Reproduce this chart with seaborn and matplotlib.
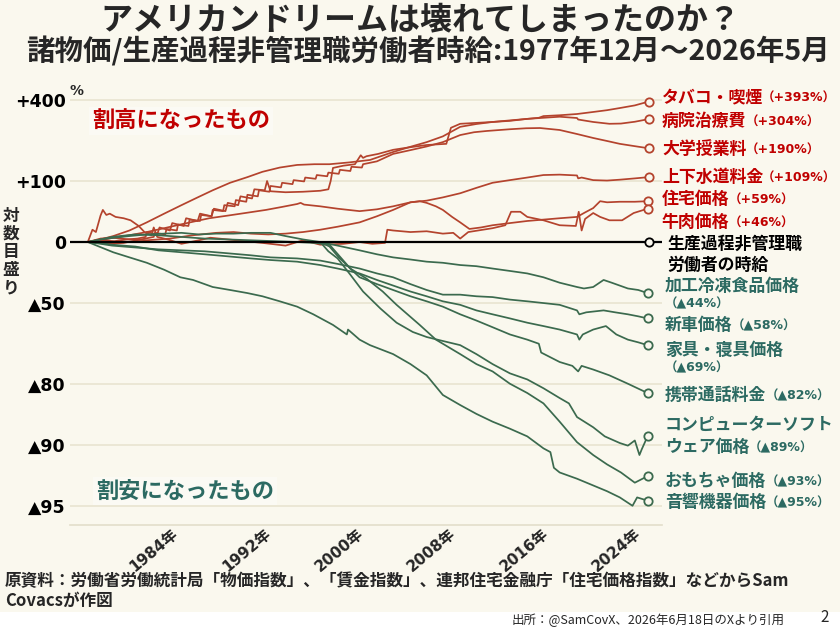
import numpy as np
import pandas as pd
import matplotlib
matplotlib.use('Agg')
import matplotlib.pyplot as plt
import matplotlib.transforms as mtrans
import seaborn as sns

# %% Data : (year, % change vs Dec-1977), price index relative to hourly wage

tobacco = [(1977.9, 0), (1979.0, 2), (1980.2, 1), (1981.3, 3), (1982.2, 4), (1982.9, 6), (1983.0, 12),
           (1983.9, 9), (1984.1, 18), (1985.0, 14), (1985.2, 24), (1986.2, 20), (1986.4, 31), (1987.4, 27),
           (1987.6, 38), (1988.6, 34), (1988.8, 46), (1989.8, 42), (1990.0, 56), (1990.9, 52), (1991.1, 68),
           (1992.1, 64), (1992.3, 82), (1993.2, 80), (1993.4, 100), (1993.7, 78), (1995.0, 76), (1996.5, 77),
           (1998.0, 79), (1998.7, 82), (1998.9, 100), (1999.1, 132), (2000.0, 138), (2001.0, 142),
           (2001.5, 168), (2001.7, 160), (2002.0, 165), (2003.0, 172), (2004.3, 185), (2005.5, 192),
           (2007.2, 201), (2008.9, 205), (2009.3, 266), (2010.1, 283), (2011.5, 287), (2012.9, 291),
           (2014.4, 296), (2015.9, 305), (2016.9, 310), (2017.3, 318), (2018.7, 322), (2020.2, 328),
           (2021.6, 338), (2022.8, 347), (2023.9, 358), (2025.2, 372), (2026.4, 393)]

hospital = [(1977.9, 0), (1979.0, 3), (1980.1, 7), (1981.5, 14), (1983.0, 25), (1984.5, 38), (1986.0, 52),
            (1987.3, 65), (1988.7, 80), (1990.2, 96), (1991.7, 109), (1993.0, 122), (1994.5, 133),
            (1996.0, 140), (1997.5, 142), (1998.8, 142), (2000.5, 147), (2002.3, 154), (2004.3, 178),
            (2005.8, 195), (2007.2, 211), (2008.6, 232), (2010.1, 270), (2011.5, 282), (2012.9, 291),
            (2014.4, 298), (2015.9, 305), (2017.3, 310), (2018.7, 315), (2020.2, 309), (2020.3, 302),
            (2021.6, 291), (2023.0, 283), (2024.0, 284), (2025.2, 292), (2026.4, 304)]

tuition = [(1977.9, 0), (1979.5, -2), (1981.0, -1), (1982.5, 3), (1983.6, 6), (1983.7, 11), (1984.6, 9),
           (1984.7, 16), (1985.6, 14), (1985.7, 22), (1986.6, 20), (1986.7, 29), (1987.6, 27), (1987.7, 36),
           (1988.6, 34), (1988.7, 44), (1989.6, 42), (1989.7, 52), (1990.6, 50), (1990.7, 61), (1991.6, 58),
           (1991.7, 71), (1992.6, 68), (1992.7, 80), (1993.6, 77), (1993.7, 89), (1994.6, 86), (1994.7, 96),
           (1995.6, 93), (1995.7, 102), (1996.6, 99), (1996.7, 108), (1997.6, 105), (1997.7, 114),
           (1998.6, 111), (1998.7, 120), (1999.6, 117), (1999.7, 127), (2000.6, 124), (2000.7, 135),
           (2001.6, 133), (2001.7, 142), (2002.9, 150), (2004.3, 172), (2005.8, 184), (2007.2, 196),
           (2008.6, 211), (2010.1, 237), (2011.3, 248), (2012.4, 253), (2014.4, 260), (2015.8, 264),
           (2017.0, 265), (2018.7, 257), (2020.2, 241), (2021.6, 226), (2022.8, 215), (2023.9, 205),
           (2025.2, 197), (2026.4, 190)]

water = [(1977.9, 0), (1979.0, 2), (1980.1, 5), (1981.5, 8), (1983.0, 12), (1984.5, 17), (1985.9, 22),
         (1987.3, 27), (1988.4, 31), (1990.0, 35), (1991.5, 39), (1993.3, 44), (1994.7, 49), (1996.0, 54),
         (1996.3, 56), (1996.6, 53), (1998.0, 50), (1999.5, 46), (2001.4, 42), (2002.9, 45), (2004.3, 50),
         (2005.8, 57), (2007.2, 60), (2008.6, 66), (2010.1, 74), (2011.5, 85), (2012.9, 96), (2014.4, 102),
         (2015.9, 108), (2017.3, 114), (2018.7, 115), (2020.2, 113), (2020.3, 106), (2020.6, 108),
         (2021.6, 102), (2022.8, 101), (2023.9, 103), (2025.2, 106), (2026.4, 109)]

housing = [(1977.9, 0), (1979.0, 4), (1980.0, 5), (1981.5, 3), (1983.0, 2), (1985.0, 4), (1987.0, 8),
           (1989.0, 11), (1990.5, 12), (1992.0, 10), (1993.5, 9), (1995.0, 10), (1996.5, 12), (1998.0, 15),
           (1999.5, 19), (2001.4, 25), (2002.9, 34), (2004.3, 44), (2005.8, 57), (2006.6, 59), (2007.2, 56),
           (2008.0, 50), (2008.6, 44), (2009.4, 33), (2010.1, 25), (2010.9, 16), (2011.9, 18), (2012.9, 21),
           (2014.4, 24), (2015.9, 27), (2017.3, 29), (2018.7, 31), (2020.2, 33), (2020.9, 40), (2021.6, 47),
           (2022.2, 59), (2022.8, 57), (2023.9, 58), (2025.2, 58), (2026.3, 59)]

beef = [(1977.9, 0), (1978.3, 15), (1978.6, 12), (1979.0, 35), (1979.2, 44), (1979.5, 36), (1979.8, 38),
        (1980.3, 33), (1981.0, 31), (1981.6, 28), (1982.3, 20), (1982.8, 12), (1983.4, 8), (1983.6, 18),
        (1983.9, 6), (1984.8, 3), (1986.0, -2), (1987.5, 2), (1988.5, 5), (1990.0, 3), (1991.5, 1),
        (1993.0, -1), (1995.0, -4), (1996.5, 2), (1998.0, -3), (2000.0, -2), (2001.4, 0), (2002.5, -2),
        (2003.6, -1), (2003.8, 15), (2004.3, 14), (2005.8, 12), (2007.2, 13), (2008.6, 10), (2009.5, 11),
        (2010.1, 4), (2010.8, 12), (2012.9, 17), (2014.0, 21), (2014.5, 41), (2015.3, 41), (2015.9, 33),
        (2017.3, 28), (2018.7, 21), (2020.1, 20), (2020.35, 41), (2020.6, 14), (2020.9, 30), (2021.6, 39),
        (2022.2, 33), (2023.0, 28), (2024.1, 28), (2025.1, 39), (2026.3, 46)]

wage = [(1977.9, 0), (2026.4, 0)]

frozen = [(1977.9, 0), (1979.0, 3), (1980.2, 5), (1981.5, 7), (1983.0, 9), (1984.5, 10), (1986.0, 11),
          (1987.5, 9), (1989.0, 10), (1990.5, 10), (1992.0, 11), (1993.7, 11), (1995.0, 7), (1996.5, 3),
          (1998.0, 0), (1999.5, -4), (2001.4, -9), (2002.9, -13), (2004.3, -16), (2005.8, -18), (2007.2, -20),
          (2008.6, -21), (2010.1, -23), (2011.5, -24), (2012.9, -26), (2014.4, -28), (2015.9, -30),
          (2017.3, -33), (2018.7, -37), (2020.2, -40), (2020.8, -41), (2021.6, -40), (2022.5, -35),
          (2023.2, -37), (2024.6, -41), (2025.5, -42), (2026.3, -44)]

new_car = [(1977.9, 0), (1979.0, -2), (1980.0, -4), (1982.0, -6), (1984.0, -8), (1986.0, -9), (1988.0, -10),
           (1990.0, -12), (1992.0, -14), (1993.7, -16), (1996.0, -17), (1998.0, -19), (1999.5, -22),
           (2001.4, -26), (2002.9, -30), (2004.3, -33), (2005.8, -38), (2007.2, -42), (2008.6, -45),
           (2010.1, -45), (2011.5, -46), (2012.9, -46.5), (2014.4, -48), (2015.9, -49), (2017.3, -50),
           (2018.7, -51), (2020.2, -54), (2020.4, -56), (2021.0, -55), (2022.5, -54), (2023.5, -55),
           (2024.6, -56), (2025.5, -57), (2026.3, -58)]

furniture = [(1977.9, 0), (1979.0, -1), (1980.0, -3), (1982.0, -5), (1984.0, -9), (1986.0, -11), (1988.0, -13),
             (1990.0, -15), (1992.0, -17), (1993.7, -18.5), (1996.0, -20), (1998.0, -23), (1999.5, -26),
             (2001.4, -30), (2002.9, -35), (2004.3, -39), (2005.8, -43), (2007.2, -46), (2008.6, -49),
             (2010.1, -51), (2011.5, -54), (2012.9, -56), (2014.4, -58), (2015.9, -60), (2017.3, -61.5),
             (2018.7, -63), (2020.2, -65), (2020.4, -67), (2020.7, -65), (2021.6, -63), (2022.7, -61.5),
             (2023.6, -65), (2024.6, -67), (2025.5, -68), (2026.3, -69)]

cellphone = [(1998.0, 0), (1998.8, -5), (1999.6, -16), (2000.6, -26), (2001.4, -33), (2002.9, -38),
             (2004.3, -42), (2005.8, -46), (2007.2, -49), (2008.6, -52), (2010.1, -56), (2011.5, -59),
             (2012.9, -62), (2014.4, -65), (2015.9, -67), (2016.9, -68.5), (2017.1, -71.5), (2018.7, -74.4),
             (2019.8, -75.5), (2020.3, -77), (2020.6, -75.5), (2021.6, -76.5), (2023.0, -78), (2024.6, -80),
             (2026.3, -82)]

software = [(1998.0, 0), (1998.7, -10), (1999.5, -17), (2000.6, -31), (2001.7, -43), (2003.2, -53),
            (2004.6, -60), (2006.0, -64), (2007.2, -66), (2008.6, -67.5), (2010.1, -69), (2011.5, -72),
            (2012.9, -75), (2014.4, -77.5), (2015.9, -79), (2017.3, -81), (2018.7, -83), (2019.5, -84),
            (2020.2, -86.3), (2021.6, -87.8), (2022.6, -89), (2023.9, -89.8), (2024.6, -90.1), (2025.2, -89.5),
            (2025.6, -91.1), (2025.8, -90.5), (2026.3, -89)]

toys = [(1977.9, 0), (1979.0, 3), (1980.0, 6), (1982.0, 9), (1984.0, 8), (1986.0, 6), (1988.0, 4),
        (1990.0, 3), (1992.0, 2), (1994.0, 1), (1996.0, 0), (1997.5, -1), (1998.8, -3), (2000.6, -26),
        (2002.0, -34), (2003.4, -43), (2004.6, -51), (2006.6, -61), (2008.0, -67), (2010.1, -72),
        (2011.5, -75), (2012.9, -77), (2014.4, -80), (2015.9, -82), (2017.3, -84), (2018.7, -87),
        (2020.2, -89.7), (2021.6, -91.1), (2022.8, -92), (2024.0, -92.7), (2025.2, -93.5), (2026.3, -93)]

audio = [(1977.9, 0), (1980.1, -11), (1981.5, -16), (1983.0, -21), (1984.5, -27), (1985.9, -33), (1987.0, -35),
         (1988.7, -40), (1990.2, -42), (1991.7, -44), (1993.0, -46), (1994.5, -49), (1996.0, -52),
         (1997.4, -56), (1999.1, -61), (2000.3, -65), (2000.4, -63), (2001.4, -67), (2002.3, -69),
         (2004.3, -72), (2005.8, -75), (2007.2, -78), (2008.6, -82.4), (2010.1, -84.3), (2011.5, -85.8),
         (2012.9, -87), (2014.4, -88), (2015.9, -89), (2017.3, -90.4), (2017.9, -90.8), (2018.2, -92.3),
         (2018.7, -92.7), (2020.2, -93.2), (2021.6, -93.7), (2022.8, -94.1), (2023.9, -94.5), (2025.0, -95),
         (2025.4, -94.5), (2026.3, -94.7)]

series_names = ['tobacco', 'hospital', 'tuition', 'water', 'housing', 'beef', 'wage',
                'frozen', 'new_car', 'furniture', 'cellphone', 'software', 'toys', 'audio']
series_data = [tobacco, hospital, tuition, water, housing, beef, wage,
               frozen, new_car, furniture, cellphone, software, toys, audio]
series_group = ['up'] * 6 + ['base'] + ['down'] * 7

label_main = ['タバコ・喫煙', '病院治療費', '大学授業料', '上下水道料金', '住宅価格', '牛肉価格',
              '生産過程非管理職\n労働者の時給',
              '加工冷凍食品価格', '新車価格', '家具・寝具価格', '携帯通話料金',
              'コンピューターソフト\nウェア価格', 'おもちゃ価格', '音響機器価格']
label_pct = ['（+393%）', '（+304%）', '（+190%）', '（+109%）', '（+59%）', '（+46%）', '',
             '（▲44%）', '（▲58%）', '（▲69%）', '（▲82%）', '（▲89%）', '（▲93%）', '（▲95%）']

ytick_vals = [400, 100, 0, -50, -80, -90, -95]
ytick_text = ['+400', '+100', '0', '▲50', '▲80', '▲90', '▲95']
xtick_years = [1984, 1992, 2000, 2008, 2016, 2024]

# %% Frame

rows = []
for name, grp, pts in zip(series_names, series_group, series_data):
    for yr, pct in pts:
        rows.append({'series': name, 'group': grp, 'year': yr, 'ratio': 1 + pct / 100.0})
df = pd.DataFrame(rows)

RED_LINE = '#B4432D'
GREEN_LINE = '#3B6A4E'
RED_TXT = '#C00000'
TEAL_TXT = '#2C6A62'
BG = '#FAF8EE'
grp_color = {'up': RED_LINE, 'base': 'black', 'down': GREEN_LINE}
palette = {n: grp_color[g] for n, g in zip(series_names, series_group)}

# %% Plot

sns.set_theme(style='white')
plt.rcParams['font.family'] = ['Noto Sans CJK JP', 'DejaVu Sans']
NUMFONT = ['DejaVu Sans', 'Noto Sans CJK JP']

W, H = 840, 630
fig = plt.figure(figsize=(W / 100, H / 100), dpi=100, facecolor=BG)
ax = fig.add_axes([70 / W, 1 - 525 / H, (662 - 70) / W, (525 - 85) / H], facecolor=BG)

# white footer band
fig.patches.append(plt.Rectangle((0, 0), 1, 1 - 612 / H, transform=fig.transFigure,
                                 facecolor='white', edgecolor='none', zorder=0))

ax.set_yscale('log')
ax.set_xlim(1976.36, 2027.55)
ax.set_ylim(0.0402, 5.95)

for v in ytick_vals:
    if v != 0:
        ax.axhline(1 + v / 100.0, color='#E8E4D0', lw=1.2, zorder=0)
ax.axhline(1, color='black', lw=1.6, zorder=3)

sns.lineplot(data=df[df.group != 'base'], x='year', y='ratio', hue='series', palette=palette,
             estimator=None, sort=False, legend=False, linewidth=1.25, ax=ax, zorder=2)

for name, pts in zip(series_names, series_data):
    yr, pct = pts[-1]
    ax.plot([yr], [1 + pct / 100.0], marker='o', ms=6, mfc=BG, mec=palette[name], mew=1.3,
            zorder=5, clip_on=False)

ax.yaxis.set_minor_locator(matplotlib.ticker.NullLocator())
ax.set_yticks([1 + v / 100.0 for v in ytick_vals])
ax.set_yticklabels(ytick_text, fontsize=12.5, fontweight='bold', family=NUMFONT)
ax.set_xticks([])

# x labels drawn by hand so they can sit slightly right of the year mark, like the original
xlab_tr = mtrans.blended_transform_factory(ax.transData, ax.transAxes) + \
    mtrans.ScaledTranslation(13 / 100, -1 / 100, fig.dpi_scale_trans)
for yr in xtick_years:
    ax.text(yr, 0, '{}年'.format(yr), transform=xlab_tr, rotation=40, ha='right', va='top',
            rotation_mode='anchor', fontsize=11, fontweight='bold', family=NUMFONT)

ax.tick_params(axis='both', length=0, pad=3, colors='black')
ax.set_xlabel('')
ax.set_ylabel('')
for s in ['top', 'right', 'left']:
    ax.spines[s].set_visible(False)
ax.spines['bottom'].set_color('#E2DECB')
ax.spines['bottom'].set_linewidth(1.2)


def px(x, y):
    return x / W, 1 - y / H


# titles
fig.text(*px(420, 20), 'アメリカンドリームは壊れてしまったのか？', ha='center', va='center',
         fontsize=23, fontweight='bold')
fig.text(*px(428, 51), '諸物価/生産過程非管理職労働者時給:1977年12月～2026年5月', ha='center', va='center',
         fontsize=20.5, fontweight='bold')

# axis notes
fig.text(*px(70, 91), '%', fontsize=10, fontweight='bold', va='center', ha='left', family=NUMFONT)
fig.text(*px(11, 252), '\n'.join('対数目盛り'), fontsize=12, fontweight='bold', ha='center', va='center',
         linespacing=1.0)

fig.text(*px(92, 121), '割高になったもの', color=RED_TXT, fontsize=16, fontweight='bold', va='center',
         bbox=dict(facecolor='#FBFAF4', edgecolor='none', pad=2))
fig.text(*px(96, 491), '割安になったもの', color=TEAL_TXT, fontsize=16, fontweight='bold', va='center',
         bbox=dict(facecolor='#FBFAF4', edgecolor='none', pad=2))

# right-side labels
label_pos = [(662, 97), (662, 121), (662, 149), (662, 177), (662, 199), (662, 222), (667, 254),
             (665, 286), (665, 325), (665, 350), (665, 395), (665, 436), (665, 481), (665, 502)]
pct_on_new_line = ['frozen', 'furniture']

fig.canvas.draw()
renderer = fig.canvas.get_renderer()
for name, grp, main, pct, (lx, ly) in zip(series_names, series_group, label_main, label_pct, label_pos):
    col = {'up': RED_TXT, 'base': 'black', 'down': TEAL_TXT}[grp]
    lines = main.split('\n')
    step = 21 if grp == 'base' else 22
    y0 = ly - step / 2 * (len(lines) - 1)
    for i, ln in enumerate(lines):
        last = fig.text(*px(lx, y0 + i * step), ln, color=col, fontsize=12.2, fontweight='bold',
                        va='center', ha='left')
    last_y = y0 + (len(lines) - 1) * step
    if not pct:
        continue
    if name in pct_on_new_line:
        fig.text(*px(lx, ly + 18), pct, color=col, fontsize=9, fontweight='bold', va='center',
                 ha='left', family=NUMFONT)
    else:
        bb = last.get_window_extent(renderer)
        fig.text((bb.x1 - 1) / W, 1 - (last_y + 1) / H, pct, color=col, fontsize=9, fontweight='bold',
                 va='center', ha='left', family=NUMFONT)

# sources
fig.text(*px(5, 581), '原資料：労働省労働統計局「物価指数」、「賃金指数」、連邦住宅金融庁「住宅価格指数」などからSam',
         fontsize=12, fontweight='bold', va='center', ha='left')
fig.text(*px(5, 601), 'Covacsが作図', fontsize=12, fontweight='bold', va='center', ha='left')
fig.text(*px(512, 620), '出所：@SamCovX、2026年6月18日のXより引用', fontsize=9, va='center', ha='left')
fig.text(*px(825, 618), '2', fontsize=11, va='center', ha='center')

fig.savefig('out.png', dpi=100, facecolor=BG)
plt.close(fig)
